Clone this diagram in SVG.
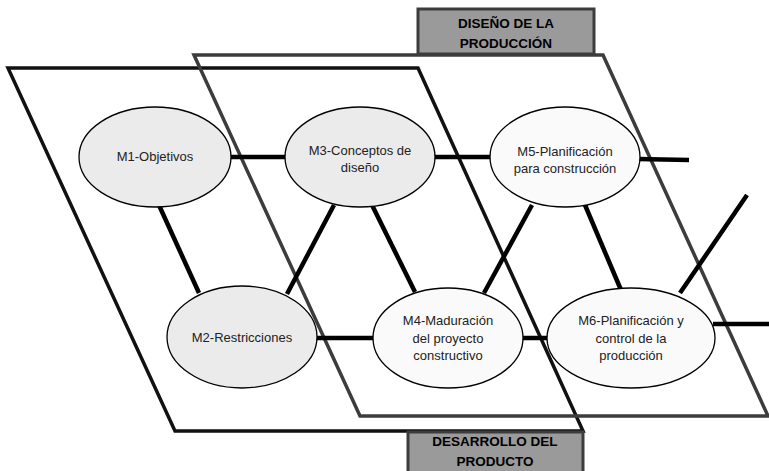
<svg xmlns="http://www.w3.org/2000/svg" width="769" height="471" viewBox="0 0 769 471">
<style>
.pb{fill:none;stroke:#111;stroke-width:3.5;stroke-linejoin:miter}
.pg{fill:none;stroke:#3c3c3c;stroke-width:3.5;stroke-linejoin:miter}
.c{stroke:#000;stroke-width:4.5;fill:none}
.e1{fill:#ebebeb;stroke:#000;stroke-width:1.3}
.e2{fill:#fafafa;stroke:#000;stroke-width:1.3}
.t{font-family:"Liberation Sans",Arial,sans-serif;font-size:13px;fill:#222;text-anchor:middle}
.lb{fill:#9a9a9a;stroke:#3c3c3c;stroke-width:3}
.lt{font-family:"Liberation Sans",Arial,sans-serif;font-size:13.5px;font-weight:bold;fill:#000;text-anchor:middle}
</style>
<rect width="769" height="471" fill="#fff"/>
<g id="planes">
<polygon id="plane-desarrollo" class="pb" points="8,68 418,68 583,431 175,431"/>
<polygon id="plane-diseno" class="pg" points="194,55 603,55 768,416 360,416"/>
</g>
<g id="connectors">
<line class="c" x1="230" y1="157" x2="287" y2="157"/>
<line class="c" x1="433" y1="157" x2="492" y2="157"/>
<line class="c" x1="638" y1="159" x2="689" y2="160"/>
<line class="c" x1="316" y1="338" x2="375" y2="338"/>
<line class="c" x1="521" y1="338" x2="549" y2="338"/>
<line class="c" x1="713" y1="324" x2="769" y2="324"/>
<line class="c" x1="158" y1="203" x2="199" y2="293"/>
<line class="c" x1="334" y1="205" x2="287" y2="294"/>
<line class="c" x1="372" y1="205" x2="415" y2="292"/>
<line class="c" x1="532" y1="205" x2="484" y2="293"/>
<line class="c" x1="585" y1="205" x2="621" y2="290"/>
<line class="c" x1="680" y1="293" x2="747" y2="195"/>
</g>
<g id="M1"><ellipse class="e1" cx="155" cy="157" rx="76" ry="50"/><text class="t" x="155" y="161">M1-Objetivos</text></g>
<g id="M2"><ellipse class="e1" cx="242" cy="337" rx="75" ry="51"/><text class="t" x="242" y="342">M2-Restricciones</text></g>
<g id="M3"><ellipse class="e1" cx="360" cy="157" rx="75" ry="50"/><text class="t" x="360" y="155">M3-Conceptos de</text><text class="t" x="360" y="172">diseño</text></g>
<g id="M4"><ellipse class="e2" cx="448" cy="338" rx="75" ry="50"/><text class="t" x="448" y="325">M4-Maduración</text><text class="t" x="448" y="343">del proyecto</text><text class="t" x="448" y="360">constructivo</text></g>
<g id="M5"><ellipse class="e2" cx="565" cy="157" rx="75" ry="50"/><text class="t" x="565" y="156">M5-Planificación</text><text class="t" x="565" y="173">para construcción</text></g>
<g id="M6"><ellipse class="e2" cx="631" cy="338" rx="84" ry="50"/><text class="t" x="631" y="325">M6-Planificación y</text><text class="t" x="631" y="343">control de la</text><text class="t" x="631" y="360">producción</text></g>
<g id="label-diseno"><rect class="lb" x="418" y="9" width="176" height="45"/><text class="lt" x="506" y="28">DISEÑO DE LA</text><text class="lt" x="506" y="48">PRODUCCIÓN</text></g>
<g id="label-desarrollo"><rect class="lb" x="408" y="432" width="175" height="42"/><text class="lt" x="495" y="446">DESARROLLO DEL</text><text class="lt" x="495" y="466">PRODUCTO</text></g>
</svg>
